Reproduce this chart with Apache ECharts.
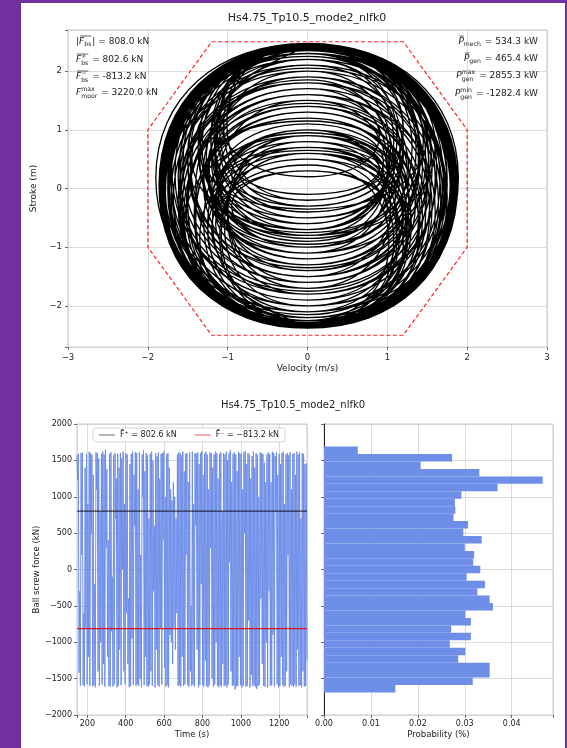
<!DOCTYPE html>
<html><head><meta charset="utf-8">
<script src="https://cdn.jsdelivr.net/npm/echarts@6/dist/echarts.min.js"></script>
<style>
html,body{margin:0;padding:0;background:#7030a0;width:567px;height:748px;overflow:hidden}
#panel{position:absolute;left:21px;top:3px;width:544px;height:745px;background:#fff}
#chart{position:absolute;left:0;top:0;width:567px;height:748px}
</style></head><body><div id="panel"></div><div id="chart"></div>
<script>
// ---------------- DATA ----------------
const chartTitle = 'Hs4.75_Tp10.5_mode2_nlfk0';

// phase portrait, one entry per half cycle:
// [stroke at turning point (velocity 0), peak velocity of the half cycle, stroke where that peak occurs]
const phaseHalfCycles = [
  [2.42,-1.82,0.06],[-2.30,1.39,-0.50],[1.30,-1.41,-0.52],[-2.35,1.85,0.05],[2.45,-1.17,0.92],[-0.60,1.12,0.85],
  [2.30,-1.75,0.02],[-2.25,1.02,-0.92],[0.40,-1.20,-0.70],[-1.80,1.62,0.30],[2.40,-1.84,0.01],[-2.37,1.72,-0.13],
  [2.10,-1.27,0.45],[-1.20,1.40,0.62],[2.44,-1.84,0.05],[-2.33,1.24,-0.71],[0.90,-0.95,0.25],[-0.40,1.20,0.70],
  [1.80,-1.60,-0.28],[-2.36,1.86,0.05],[2.46,-1.56,0.43],[-1.60,1.20,-0.50],[0.60,-1.08,-0.80],[-2.20,1.75,0.07],
  [2.35,-1.82,-0.01],[-2.38,1.53,-0.39],[1.60,-1.25,0.35],[-0.90,1.19,0.65],[2.20,-1.73,-0.05],[-2.30,1.82,0.06],
  [2.43,-1.01,1.11],[-0.20,0.95,0.45],[1.10,-1.30,-0.59],[-2.28,1.79,0.05],[2.38,-1.82,0.02],[-2.34,1.67,-0.17],
  [2.00,-1.16,0.50],[-1.00,1.00,-0.35],[0.30,-1.15,-0.60],[-1.50,1.52,0.48],[2.45,-1.85,0.05],[-2.36,1.79,-0.03],
  [2.30,-1.62,0.20],[-1.90,1.27,-0.25],[1.40,-1.42,-0.45],[-2.30,1.84,0.09],[2.47,-1.90,0.18],[-2.10,1.12,-0.65],
  [0.80,-1.10,0.05],[-0.70,1.04,0.65],[2.00,-1.68,-0.19],[-2.37,1.84,0.03],[2.42,-1.47,0.51],[-1.40,1.27,0.25],
  [1.90,-1.62,-0.21],[-2.32,1.83,0.06],[2.44,-1.13,0.97],[-0.50,0.95,0.10],[0.70,-1.04,-0.65],[-2.00,1.66,0.15],
  [2.30,-1.79,-0.03],[-2.35,1.56,-0.33],[1.70,-1.50,-0.25],[-2.20,1.79,0.13],[2.45,-1.37,0.68],[-1.10,1.00,0.20],
  [1.50,-1.15,0.60],[-0.30,1.20,0.98],[2.25,-1.78,-0.07],[-2.38,1.84,0.01],[2.40,-1.81,0.05],[-2.30,1.08,-0.90],
  [0.50,-1.15,-0.40],[-1.30,1.41,0.53],[2.36,-1.81,0.02],[-2.33,1.88,0.07],[2.46,-1.60,0.38],[-1.70,1.04,-0.35],
  [1.00,-1.25,-0.62],[-2.25,1.71,-0.03],[2.20,-1.16,0.70],[-0.80,1.02,0.52],[1.85,-1.62,-0.25],[-2.36,1.85,0.04],
  [2.44,-1.71,0.22],[-2.00,1.23,-0.40],[1.20,-1.30,0.10],[-1.00,1.31,0.70],[2.40,-1.84,0.01],[-2.37,1.80,-0.03],
  [2.30,-1.10,1.25],[0.20,0.90,0.90],[1.60,-1.50,-0.35],[-2.30,1.83,0.07],[2.45,-1.85,0.05],[-2.35,1.25,-0.72],
  [0.90,-1.00,-0.35],[-1.60,1.52,0.37],[2.35,-1.71,0.12],[-2.10,1.89,0.18],[2.47,-1.10,1.03],[-0.40,1.10,0.45],
  [1.30,-1.40,-0.52],[-2.34,1.83,0.04],[2.42,-1.84,0.03],[-2.36,1.64,-0.23],[1.90,-1.31,0.20],[-1.50,1.20,-0.45],
  [0.60,-1.10,-0.83],[-2.25,1.80,0.09],[2.43,-1.82,0.07],[-2.30,1.69,-0.10],[2.10,-1.15,1.00],[-0.10,0.90,0.35],
  [0.80,-1.00,-0.50],[-1.80,1.62,0.30],[2.40,-1.84,0.01],[-2.38,1.80,-0.04],[2.30,-1.35,0.55],[-1.20,1.41,0.62],
  [2.45,-1.85,0.05],[-2.35,1.44,-0.48],[1.40,-1.20,0.40],[-0.60,1.08,0.80],[2.20,-1.74,-0.07],[-2.33,1.85,0.07],
  [2.46,-1.79,0.13],[-2.20,1.20,-0.95],[0.30,-0.95,-0.30],[-0.90,1.00,0.40],[1.70,-1.57,-0.34],[-2.37,1.84,0.02],
  [2.41,-1.66,0.26],[-1.90,1.60,0.17],[2.25,-1.75,-0.03],[-2.30,1.27,-0.65],[1.00,-1.19,-0.55],[-2.10,1.75,0.17],
  [2.44,-1.21,0.87],[-0.70,1.04,0.65],[2.00,-1.68,-0.18],[-2.36,1.82,0.01],[2.38,-1.82,0.02],[-2.34,1.48,-0.42],
  [1.50,-1.12,0.05],[-1.40,1.48,0.52],[2.45,-1.82,0.08],[-2.28,1.15,-0.79],[0.70,-0.85,0.25],[-0.20,1.20,1.05],
  [2.30,-1.80,-0.03],[-2.37,1.85,0.03],[2.43,-1.32,0.72],[-1.00,1.08,0.40],[1.80,-1.59,-0.27],[-2.33,1.82,0.03],
  [2.40,-1.75,0.12],[-2.15,1.29,-0.47],[1.20,-1.15,0.35],[-0.50,1.20,0.55],[1.60,-1.52,-0.38],[-2.35,1.85,0.05],
  [2.46,-1.83,0.08],[-2.30,1.73,-0.05],[2.20,-1.46,0.30],[-1.60,1.20,-0.55],[0.50,-1.25,-0.75],[-2.00,1.70,0.21],
  [2.42,-1.84,0.03],[-2.36,1.81,0.00],[2.35,-1.21,0.78],[-0.80,1.15,0.10],[1.00,-1.25,-0.62],[-2.25,1.81,0.10],
  [2.45,-1.75,0.17],[-2.10,1.54,-0.10],[1.90,-1.23,0.30],[-1.30,1.39,0.50],[2.30,-1.80,-0.04],[-2.38,1.86,0.03],
  [2.44,-1.05,1.07],[-0.30,0.95,0.30],[0.90,-1.00,-0.40],[-1.70,1.56,0.33],[2.36,-1.80,0.02],[-2.32,1.87,0.08],
  [2.47,-1.82,0.11],[-2.25,1.41,-0.43],[1.40,-1.25,0.25],[-0.90,1.16,0.60],[2.10,-1.71,-0.13],[-2.35,1.83,0.03],
  [2.40,-1.50,0.45],[-1.50,1.44,0.38],[2.25,-1.75,-0.03],[-2.30,1.12,-0.85],[0.60,-1.15,-0.25],[-1.10,1.36,0.67],
  [2.43,-1.85,0.03],[-2.37,1.30,-0.60],[1.20,-1.30,0.20],[-0.80,1.60,0.75],[2.30,-1.80,-0.02],[-2.34,1.86,0.05],
  [2.44,-1.50,0.55],[-1.35,1.20,-0.35],[0.65,-1.10,-0.05],[-0.75,1.45,0.80],[2.35,-1.83,0.00],[-2.36,1.85,0.04],
  [2.45,-1.35,0.80],[-0.85,1.25,0.30],[1.45,-1.55,-0.45],[-2.30,1.80,0.05],[2.40,-1.84,0.02],[-2.35,1.40,-0.70],
  [0.95,-1.20,0.00],[-0.95,1.20,0.00],[0.90,-1.55,-0.70],[-2.25,1.82,0.10],[2.46,-1.86,0.05],[-2.37,1.75,-0.15],
  [2.05,-1.60,0.15],[-1.75,1.35,-0.30],[1.15,-1.25,0.40],[-0.35,1.50,0.95],[2.35,-1.84,0.01],[-2.33,1.87,0.06],
  [2.47,-1.70,0.35],[-1.80,1.50,0.00],[1.80,-1.45,0.55],[-0.70,0.95,0.05],[0.60,-1.35,-0.85],[-2.20,1.82,0.10],
  [2.42,-1.85,0.03],[-2.36,1.60,-0.40],[1.60,-1.40,0.05],[-1.50,1.10,-0.10],[0.70,-1.20,-0.20],[-1.10,1.55,0.65],
  [2.40,-1.85,0.02]
];
const phaseEndStroke = -2.36;

// stroke/velocity limit envelope (red dashed)
const limitVelocity = [-1.2, 1.2, 2, 2, 1.2, -1.2, -2, -2, -1.2];
const limitStroke   = [2.5, 2.5, 1, -1, -2.5, -2.5, -1, 1, 2.5];

// ball screw force time series (kN): successive turning points, evenly spaced in time
const timeStart = 146, timeEnd = 1345;
const forceValues = [
  1570,1230,1590,-1420,-300,-1600,1600,200,1610,-1590,-600,-1610,1400,-800,1590,-1580,900,-1200,1620,-1600,
  1600,500,1580,-1610,1300,-1590,-200,-1620,1610,1100,1600,-1400,1530,-1600,800,-1000,1590,-1580,1620,-1300,
  1580,-1610,1650,300,1380,-1200,400,-1600,1590,-1610,1610,-850,-100,-1610,1570,-1580,1600,700,1250,-1620,
  1590,-1600,1400,-1100,1600,-1590,1530,0,1620,-1400,900,-1580,1600,-600,1580,-1300,-400,-1620,1450,-1600,
  1590,-950,1620,-1590,1300,600,1610,-1600,1600,-1580,1100,-1600,1610,-1500,200,-1620,1580,1000,1640,-1590,
  1350,-1200,1600,-1600,1570,-1610,700,-1580,1590,-1400,1620,-1600,1500,-300,600,-1620,1600,-1100,1560,-1590,
  1610,-1610,1250,-800,1590,-1580,1600,400,1620,-1350,1000,-1610,1580,-1590,1600,-1620,1400,-900,1100,-1000,
  950,-1300,1200,-800,1000,-1100,700,-600,1580,-1600,1610,-1590,1600,-1610,1570,-1200,1620,-1600,1350,-1580,
  1590,200,1600,-1590,1200,-1610,1610,-1400,-500,-1600,1620,-1580,900,-1610,1600,600,1590,-1100,1610,-1620,
  1450,-1590,1600,-200,1630,-1580,1300,-1610,1590,-1250,1620,-1600,1580,-1620,1100,-1590,1610,300,1600,-1500,
  1400,-1610,1580,-1580,1620,-1000,1600,-1600,1250,-1620,1590,-1590,1610,-1610,800,-1300,1600,-1600,1580,-1590,
  1620,-1620,1500,-1580,1600,100,1640,-1400,1200,-1600,1590,-1590,1610,-1650,1580,-1610,1350,-1600,1620,-1200,
  1600,-1590,1590,-1620,1100,-1600,1610,500,1630,-1610,1450,-1600,1600,-700,1580,-1620,1250,-1450,1560,-1600,
  1620,-1590,1400,-1610,1600,-1640,1580,-1600,1000,-1580,1610,-400,1600,-1300,1590,-1600,1470,-1610,1200,-1000,
  1580,-1620,1610,-300,1590,-1600,1200,-1590,1620,-900,1600,-1610,1560,800,1610,-1580,1300,-1620,1590,-1600,
  1450,-1200,1600,-1590,1620,-1610,900,-1600,1580,-1400,1600,200,1570,-1620,1610,-1580,1100,-1600,1590,-1610,
  1600,-1580,1300,-1610,1620,-1100,1580,-1600,1610,-1590,700,-1620,1600,-1400,1590,-1610,1450,-1600,1460,-1250
];
const meanPositive = 802.6, meanNegative = -813.2;
const legendPositive = 'F\u0304\u207A = 802.6 kN';
const legendNegative = 'F\u0304\u207B = \u2212813.2 kN';

// histogram (probability, bins from bottom to top)
const histStart = -1690, histBinWidth = 102.4;
const histProb = [0.0152,0.0317,0.0353,0.0353,0.0286,0.0301,0.0268,0.0313,0.0271,0.0313,0.0301,0.0360,0.0353,
  0.0327,0.0343,0.0304,0.0333,0.0318,0.0320,0.0300,0.0336,0.0297,0.0307,0.0276,0.0280,0.0279,0.0293,0.0370,
  0.0466,0.0331,0.0206,0.0273,0.0072];

// annotation texts
const leftNotes = [
  {pre:'|', base:'F', over:'all', sup:'', sub:'bs', rest:'| = 808.0 kN'},
  {pre:'', base:'F', over:'all', sup:'+', sub:'bs', rest:' = 802.6 kN'},
  {pre:'', base:'F', over:'all', sup:'\u2212', sub:'bs', rest:' = -813.2 kN'},
  {pre:'', base:'F', over:'', sup:'max', sub:'moor', rest:' = 3220.0 kN'}
];
const rightNotes = [
  {pre:'', base:'P', over:'base', sup:'', sub:'mech', rest:' = 534.3 kW'},
  {pre:'', base:'P', over:'base', sup:'', sub:'gen', rest:' = 465.4 kW'},
  {pre:'', base:'P', over:'', sup:'max', sub:'gen', rest:' = 2855.3 kW'},
  {pre:'', base:'P', over:'', sup:'min', sub:'gen', rest:' = -1282.4 kW'}
];

// ---------------- BUILD ----------------
const FONT = '"DejaVu Sans", sans-serif';
const phasePoints = [];
phaseHalfCycles.forEach(h => { phasePoints.push([0, h[0]], [h[1], h[2]]); });
phasePoints.push([0, phaseEndStroke]);
const limitPoints = limitVelocity.map((v, i) => [v, limitStroke[i]]);
const forcePoints = forceValues.map((f, i) => [timeStart + i * (timeEnd - timeStart) / (forceValues.length - 1), f]);
const histData = histProb.map((p, i) => [histStart + i * histBinWidth, histStart + (i + 1) * histBinWidth, p]);

const mctx = document.createElement('canvas').getContext('2d');
function tw(s, size, italic) { mctx.font = (italic ? 'italic ' : '') + size + 'px "DejaVu Sans"'; return mctx.measureText(s).width; }
const FS = 9, SS = 6.2;
function txt(s, x, y, size, italic, align) {
  return {type:'text', x:x, y:y, silent:true, z:50,
    style:{text:s, font:(italic?'italic ':'') + size + 'px ' + FONT, fill:'#222',
      textAlign:align||'left', textVerticalAlign:'middle', verticalAlign:'middle'}};
}
function noteLine(n, x, y, align) {
  const wPre = tw(n.pre, FS), wBase = tw(n.base, FS, true);
  const wScr = Math.max(tw(n.sup, SS), tw(n.sub, SS));
  const wRest = tw(n.rest, FS);
  const total = wPre + wBase + wScr + 1 + wRest;
  let cx = align === 'right' ? x - total : x;
  const els = [];
  if (n.pre) els.push(txt(n.pre, cx, y, FS));
  cx += wPre;
  const bx = cx;
  els.push(txt(n.base, cx, y, FS, true));
  cx += wBase;
  if (n.sup) els.push(txt(n.sup, cx, y - 3.5, SS));
  els.push(txt(n.sub, cx, n.sup ? y + 3 : y + 2.5, SS));
  if (n.over) {
    const ex = n.over === 'all' ? cx + wScr : cx;
    els.push({type:'line', silent:true, z:50, shape:{x1:bx + 1, y1:y - 6, x2:ex, y2:y - 6}, style:{stroke:'#222', lineWidth:0.7}});
  }
  cx += wScr + 1;
  els.push(txt(n.rest, cx, y, FS));
  return els;
}
const graphics = [];
const t1 = txt(chartTitle, 307, 18, 11); t1.style.textAlign = 'center'; graphics.push(t1);
const t2 = txt(chartTitle, 293, 405, 10); t2.style.textAlign = 'center'; graphics.push(t2);
const leftY = [42, 60, 77, 93], rightY = [42, 59, 76, 94];
leftNotes.forEach((n, i) => graphics.push(...noteLine(n, 76, leftY[i], 'left')));
rightNotes.forEach((n, i) => graphics.push(...noteLine(n, 538, rightY[i], 'right')));

const minus = v => String(v).replace('-', '\u2212');
const gridLine = {show:true, lineStyle:{color:'#d2d2d2', width:0.8}};
const tick = {show:true, length:3, lineStyle:{color:'#444', width:0.8}};
const lab = {fontFamily:FONT, fontSize:8.5, color:'#222'};
const noLine = {show:false, onZero:false};

const chart = echarts.init(document.getElementById('chart'), null, {renderer:'canvas'});
chart.setOption({
  animation:false,
  backgroundColor:'transparent',
  graphic:{elements:graphics},
  grid:[
    {left:68, top:30, width:479, height:317, show:true, borderColor:'#bdbdbd', borderWidth:0.8},
    {left:77, top:424, width:230, height:291, show:true, borderColor:'#bdbdbd', borderWidth:0.8},
    {left:324, top:424, width:229, height:291, show:true, borderColor:'#bdbdbd', borderWidth:0.8}
  ],
  legend:{
    left:93, top:428,
    data:[{name:legendPositive, icon:'rect', itemStyle:{color:'rgba(0,0,0,0.45)'}},
          {name:legendNegative, icon:'rect', itemStyle:{color:'rgba(240,60,60,0.65)'}}],
    itemWidth:16, itemHeight:1.3, itemGap:18, padding:[3,6,3,6],
    backgroundColor:'#fff', borderColor:'#cccccc', borderWidth:0.8, borderRadius:3,
    textStyle:{fontFamily:FONT, fontSize:8, color:'#222'}
  },
  xAxis:[
    {gridIndex:0, type:'value', min:-3, max:3, interval:1,
      name:'Velocity (m/s)', nameLocation:'middle', nameGap:17, nameTextStyle:{fontFamily:FONT, fontSize:9, color:'#222'},
      axisLine:noLine, axisTick:tick, splitLine:gridLine,
      axisLabel:Object.assign({formatter:minus, margin:6}, lab)},
    {gridIndex:1, type:'value', min:timeStart, max:timeEnd,
      name:'Time (s)', nameLocation:'middle', nameGap:15, nameTextStyle:{fontFamily:FONT, fontSize:8.5, color:'#222'},
      axisLine:noLine, axisTick:tick, splitLine:gridLine,
      axisLabel:Object.assign({formatter:v => (v % 200 === 0 ? String(v) : ''), margin:5}, lab, {fontSize:8})},
    {gridIndex:2, type:'value', min:0, max:0.0488, interval:0.01,
      name:'Probability (%)', nameLocation:'middle', nameGap:15, nameTextStyle:{fontFamily:FONT, fontSize:8.5, color:'#222'},
      axisLine:noLine, axisTick:tick, splitLine:gridLine,
      axisLabel:Object.assign({formatter:v => (Math.abs(v * 100 - Math.round(v * 100)) < 1e-6 ? v.toFixed(2) : ''), margin:5}, lab, {fontSize:8})}
  ],
  yAxis:[
    {gridIndex:0, type:'value', min:-2.7, max:2.7,
      name:'Stroke (m)', nameLocation:'middle', nameGap:19, nameTextStyle:{fontFamily:FONT, fontSize:9, color:'#222'},
      axisLine:noLine, axisTick:tick, splitLine:gridLine,
      axisLabel:Object.assign({formatter:v => (Number.isInteger(v) ? minus(v) : ''), margin:6}, lab)},
    {gridIndex:1, type:'value', min:-2000, max:2000, interval:500,
      name:'Ball screw force (kN)', nameLocation:'middle', nameGap:35, nameTextStyle:{fontFamily:FONT, fontSize:8.5, color:'#222'},
      axisLine:noLine, axisTick:tick, splitLine:gridLine,
      axisLabel:Object.assign({formatter:minus, margin:5}, lab, {fontSize:8})},
    {gridIndex:2, type:'value', min:-2000, max:2000, interval:500,
      axisLine:{show:true, onZero:false, lineStyle:{color:'#222', width:1}}, axisTick:tick, splitLine:gridLine,
      axisLabel:{show:false}}
  ],
  series:[
    {type:'line', xAxisIndex:0, yAxisIndex:0, data:phasePoints, smooth:0.6, showSymbol:false, symbol:'none',
      lineStyle:{color:'#000', width:1.3}, silent:true, clip:true},
    {type:'line', xAxisIndex:0, yAxisIndex:0, data:limitPoints, showSymbol:false, symbol:'none',
      lineStyle:{color:'#ff2020', width:1.2, type:[4,2.5]}, silent:true},
    {type:'line', xAxisIndex:1, yAxisIndex:1, data:forcePoints, showSymbol:false, symbol:'none',
      lineStyle:{color:'#6f8ee8', width:1}, silent:true, clip:true},
    {type:'line', name:legendPositive, xAxisIndex:1, yAxisIndex:1, data:[[timeStart, meanPositive],[timeEnd, meanPositive]],
      showSymbol:false, symbol:'none', color:'rgba(0,0,0,0.45)', lineStyle:{color:'rgba(0,0,0,0.7)', width:1.1}, silent:true},
    {type:'line', name:legendNegative, xAxisIndex:1, yAxisIndex:1, data:[[timeStart, meanNegative],[timeEnd, meanNegative]],
      showSymbol:false, symbol:'none', color:'rgba(240,60,60,0.65)', lineStyle:{color:'rgba(230,0,0,0.85)', width:1.1}, silent:true},
    {type:'custom', xAxisIndex:2, yAxisIndex:2, data:histData, silent:true, clip:true,
      encode:{x:2, y:[0,1]},
      renderItem:function(params, api){
        const p0 = api.coord([0, api.value(0)]);
        const p1 = api.coord([api.value(2), api.value(1)]);
        return {type:'rect', shape:{x:p0[0], y:p1[1], width:p1[0]-p0[0], height:p0[1]-p1[1]},
          style:{fill:'#6f8ee8'}};
      }}
  ]
});
</script></body></html>
